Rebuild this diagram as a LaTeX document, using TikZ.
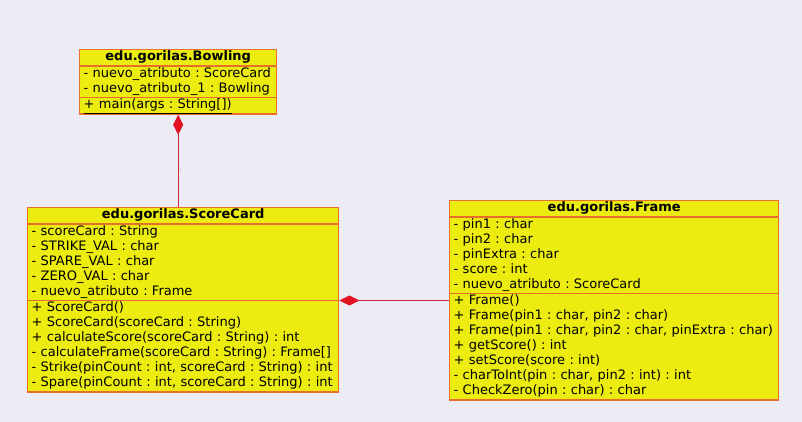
\documentclass[tikz,border=0pt]{standalone}
\usepackage{fontspec}
\setmainfont{DejaVu Sans}
\usetikzlibrary{shapes.multipart}
\usetikzlibrary{arrows.meta}
\definecolor{bgcol}{RGB}{235,236,244}
\definecolor{umlfill}{RGB}{236,236,16}
\definecolor{umlborder}{RGB}{232,110,44}
\definecolor{linkcol}{RGB}{205,40,60}
\definecolor{tipcol}{RGB}{226,18,34}
\newcommand{\ent}[1]{\strut#1}
\newcommand{\classtitle}[1]{\hbox to\hsize{\hss\strut\textbf{#1}\hss}}
\frenchspacing

\begin{document}
\begin{tikzpicture}[x=1pt,y=-1pt,
    class node/.style={rectangle split,rectangle split parts=3,draw=umlborder,fill=umlfill,
      line width=1.4pt,inner xsep=4pt,inner ysep=0pt,anchor=north west,
      font=\fontsize{13}{15}\selectfont\frenchspacing},
    comp/.style={draw=linkcol,line width=0.8pt,
      {Diamond[length=20pt,width=10pt,color=tipcol,fill=tipcol]}-}]
  \fill[bgcol] (0,0) rectangle (802,422);
  \useasboundingbox (0,0) rectangle (802,422);
  % classes
  \node[class node,text width=189pt] (bowling) at (79,49) {
    \classtitle{edu.gorilas.Bowling}
    \nodepart{two}
    \ent{- nuevo\_atributo : ScoreCard}\\
    \ent{- nuevo\_atributo\_1 : Bowling}
    \nodepart{three}
    \ent{\underline{+ main(args : String[])}}};
  \node[class node,text width=303pt] (scorecard) at (27,207) {
    \classtitle{edu.gorilas.ScoreCard}
    \nodepart{two}
    \ent{- scoreCard : String}\\
    \ent{- STRIKE\_VAL : char}\\
    \ent{- SPARE\_VAL : char}\\
    \ent{- ZERO\_VAL : char}\\
    \ent{- nuevo\_atributo : Frame}
    \nodepart{three}
    \ent{+ ScoreCard()}\\
    \ent{+ ScoreCard(scoreCard : String)}\\
    \ent{+ calculateScore(scoreCard : String) : int}\\
    \ent{- calculateFrame(scoreCard : String) : Frame[]}\\
    \ent{- Strike(pinCount : int, scoreCard : String) : int}\\
    \ent{- Spare(pinCount : int, scoreCard : String) : int}};
  \node[class node,text width=321pt] (frame) at (449,200) {
    \classtitle{edu.gorilas.Frame}
    \nodepart{two}
    \ent{- pin1 : char}\\
    \ent{- pin2 : char}\\
    \ent{- pinExtra : char}\\
    \ent{- score : int}\\
    \ent{- nuevo\_atributo : ScoreCard}
    \nodepart{three}
    \ent{+ Frame()}\\
    \ent{+ Frame(pin1 : char, pin2 : char)}\\
    \ent{+ Frame(pin1 : char, pin2 : char, pinExtra : char)}\\
    \ent{+ getScore() : int}\\
    \ent{+ setScore(score : int)}\\
    \ent{- charToInt(pin : char, pin2 : int) : int}\\
    \ent{- CheckZero(pin : char) : char}};
  % compositions
  \draw[comp] (bowling.south) -- (bowling.south |- scorecard.north);
  \draw[comp] (scorecard.two split east) -- (scorecard.two split east -| frame.west);
  \node[font=\tiny,inner sep=0pt] (dot) at (181,170) {.};
\end{tikzpicture}
\end{document}
